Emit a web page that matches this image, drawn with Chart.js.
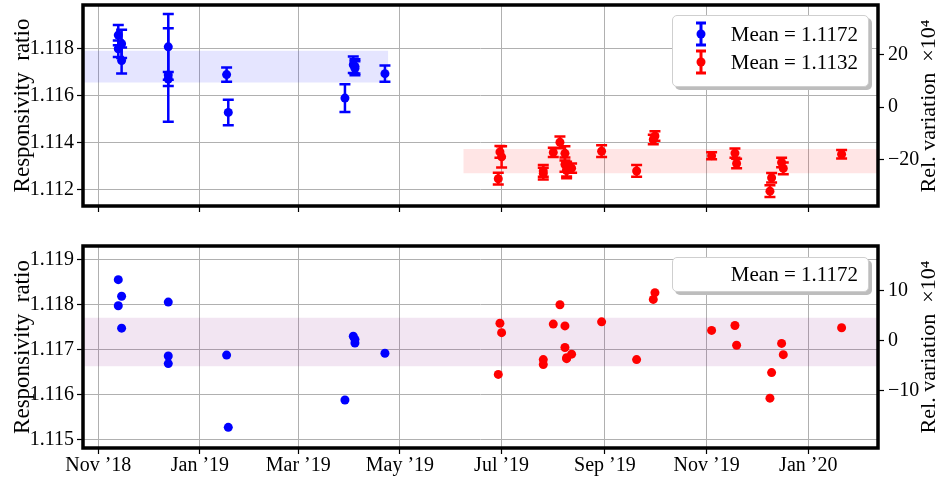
<!DOCTYPE html>
<html>
<head>
<meta charset="utf-8">
<script src="https://cdn.jsdelivr.net/npm/chart.js@4.4.1/dist/chart.umd.min.js"></script>
<style>
  body { margin: 0; background: #fff; width: 940px; height: 479px; position: relative; overflow: hidden; font-family: 'Liberation Serif', serif; }
  canvas { position: absolute; left: 0; }
  #chartTop { top: 0; }
  #chartBot { top: 240px; }
  .legend { position: absolute; background: #fff; border: 1px solid #cfcfcf; border-radius: 5px; box-shadow: 3px 3px 0 #bdbdbd; font-size: 21px; color: #000; box-sizing: border-box; }
  .legend .row { position: absolute; left: 0; right: 0; height: 28px; line-height: 28px; }
  .legend svg { position: absolute; left: 21px; top: 1px; }
  .legend .txt { position: absolute; right: 10px; }
  .rtitle { position: absolute; width: 200px; height: 24px; line-height: 24px; text-align: center; font-size: 22px; color: #000; transform: rotate(-90deg); transform-origin: 50% 50%; white-space: pre; }
</style>
</head>
<body>
<canvas id="chartTop" width="940" height="215"></canvas>
<canvas id="chartBot" width="940" height="239"></canvas>

<div class="rtitle" style="left:828px;top:94px">Rel. variation  ×10⁴</div>
<div class="rtitle" style="left:828px;top:335px">Rel. variation  ×10⁴</div>

<div class="legend" style="left:672px;top:15px;width:197px;height:72px">
  <div class="row" style="top:4px">
    <svg width="14" height="26"><path d="M2 2H12M7 2V24M2 24H12" stroke="#0000ff" stroke-width="3" fill="none"/><circle cx="7" cy="13" r="4.5" fill="#0000ff"/></svg>
    <span class="txt">Mean = 1.1172</span>
  </div>
  <div class="row" style="top:32px">
    <svg width="14" height="26"><path d="M2 2H12M7 2V24M2 24H12" stroke="#ff0000" stroke-width="3" fill="none"/><circle cx="7" cy="13" r="4.5" fill="#ff0000"/></svg>
    <span class="txt">Mean = 1.1132</span>
  </div>
</div>
<div class="legend" style="left:672px;top:257px;width:197px;height:35px">
  <div class="row" style="top:2px"><span class="txt">Mean = 1.1172</span></div>
</div>

<script>
// measurement dates and responsivity ratios
const blueDates = ['2018-11-13','2018-11-15','2018-11-13','2018-11-15','2018-12-13','2018-12-13','2018-12-13',
                   '2019-01-17','2019-01-18','2019-03-29','2019-04-03','2019-04-04','2019-04-04','2019-04-22'];
const blueRatio = [1.11856, 1.11819, 1.11798, 1.11748, 1.11806, 1.11686, 1.11669,
                   1.11688, 1.11527, 1.11588, 1.11730, 1.11723, 1.11715, 1.11692];
const blueErr   = [0.00043, 0.00060, 0.00035, 0.00055, 0.00140, 0.00199, 0.00030,
                   0.00030, 0.00054, 0.00059, 0.00035, 0.00030, 0.00030, 0.00035];

const redDates = ['2019-06-30','2019-07-01','2019-06-29','2019-07-26','2019-07-26','2019-08-01','2019-08-05',
                  '2019-08-08','2019-08-08','2019-08-09','2019-08-12','2019-08-09','2019-08-30','2019-09-20',
                  '2019-09-30','2019-10-01','2019-11-04','2019-11-18','2019-11-19','2019-12-10','2019-12-09',
                  '2019-12-16','2019-12-17','2020-01-21'];
// raw ratios (top panel)
const redRatio = [1.11359, 1.11338, 1.11245, 1.11278, 1.11267, 1.11357, 1.11400,
                  1.11353, 1.11305, 1.11282, 1.11290, 1.11280, 1.11362, 1.11278,
                  1.11412, 1.11427, 1.11343, 1.11354, 1.11310, 1.11249, 1.11192,
                  1.11314, 1.11289, 1.11349];
const redErr   = [0.00025, 0.00045, 0.00025, 0.00025, 0.00025, 0.00020, 0.00025,
                  0.00030, 0.00030, 0.00035, 0.00020, 0.00025, 0.00025, 0.00025,
                  0.00020, 0.00020, 0.00015, 0.00020, 0.00020, 0.00020, 0.00025,
                  0.00020, 0.00025, 0.00018];
// ratios rescaled to the blue mean (bottom panel)
const redScaled = [1.11759, 1.11738, 1.11645, 1.11678, 1.11667, 1.11757, 1.11800,
                   1.11753, 1.11705, 1.11682, 1.11690, 1.11680, 1.11762, 1.11678,
                   1.11812, 1.11827, 1.11743, 1.11754, 1.11710, 1.11649, 1.11592,
                   1.11714, 1.11689, 1.11749];

// mean +- spread bands
const blueBand   = [1.11654, 1.11789];
const blueBandX  = ['2018-10-20', '2019-04-24'];
const redBand    = [1.11268, 1.11371];
const redBandX   = ['2019-06-08', '2020-02-15'];
const allBand    = [1.11663, 1.11771];
const allBandX   = ['2018-10-20', '2020-02-15'];

const monthTicks  = ['2018-11-01','2019-01-01','2019-03-01','2019-05-01','2019-07-01','2019-09-01','2019-11-01','2020-01-01'];
const monthLabels = ['Nov ’18','Jan ’19','Mar ’19','May ’19','Jul ’19','Sep ’19','Nov ’19','Jan ’20'];

const topTicks = [1.112, 1.114, 1.116, 1.118];
const topRel   = [-20, 0, 20];
const botTicks = [1.115, 1.116, 1.117, 1.118, 1.119];
const botRel   = [-10, 0, 10];

const toT = s => Date.parse(s + 'T00:00:00Z');
const xMin = Date.parse('2018-10-22T20:00:00Z');
const xMax = Date.parse('2020-02-11T20:00:00Z');

const pts = (dates, vals) => dates.map((d, i) => ({ x: toT(d), y: vals[i] }));
const FONT = "'Liberation Serif', serif";

const errorBars = {
  id: 'errorBars',
  afterDatasetsDraw(chart) {
    const { ctx, chartArea: a } = chart;
    const yS = chart.scales.y;
    ctx.save();
    ctx.beginPath(); ctx.rect(a.left, a.top, a.width, a.height); ctx.clip();
    chart.data.datasets.forEach((ds, i) => {
      if (!ds.errors) return;
      const meta = chart.getDatasetMeta(i);
      ctx.strokeStyle = ds.backgroundColor;
      ctx.lineWidth = 2.5;
      meta.data.forEach((p, j) => {
        const v = ds.data[j].y, e = ds.errors[j];
        const y1 = yS.getPixelForValue(v - e), y2 = yS.getPixelForValue(v + e);
        ctx.beginPath();
        ctx.moveTo(p.x, y1); ctx.lineTo(p.x, y2);
        ctx.moveTo(p.x - 5.5, y1); ctx.lineTo(p.x + 5.5, y1);
        ctx.moveTo(p.x - 5.5, y2); ctx.lineTo(p.x + 5.5, y2);
        ctx.stroke();
      });
    });
    ctx.restore();
  }
};

const frame = {
  id: 'frame',
  afterDraw(chart) {
    const { ctx, chartArea: a } = chart;
    ctx.save();
    ctx.strokeStyle = '#000';
    ctx.lineWidth = 3.5;
    ctx.strokeRect(a.left, a.top, a.width, a.height);
    ctx.restore();
  }
};

function band(lohi, xs, color) {
  return [
    { type: 'line', data: [{ x: toT(xs[0]), y: lohi[1] }, { x: toT(xs[1]), y: lohi[1] }],
      borderColor: 'transparent', borderWidth: 0, pointRadius: 0, fill: false, order: 10 },
    { type: 'line', data: [{ x: toT(xs[0]), y: lohi[0] }, { x: toT(xs[1]), y: lohi[0] }],
      borderColor: 'transparent', borderWidth: 0, pointRadius: 0, fill: '-1', backgroundColor: color, order: 10 }
  ];
}

function makeOptions(o) {
  const relMin = (o.yMin / o.base - 1) * 1e4;
  const relMax = (o.yMax / o.base - 1) * 1e4;
  return {
    responsive: false,
    animation: false,
    events: [],
    layout: { padding: { top: o.padTop, left: 0, right: 0, bottom: 0 } },
    plugins: { legend: { display: false }, tooltip: { enabled: false } },
    scales: {
      x: {
        type: 'linear', min: xMin, max: xMax,
        afterBuildTicks: s => { s.ticks = monthTicks.map(d => ({ value: toT(d) })); },
        afterFit: s => { s.height = o.xHeight; s.paddingLeft = 0; s.paddingRight = 0; },
        grid: { color: '#b0b0b0', lineWidth: 1, tickColor: '#000', tickLength: 6, tickWidth: 1.2 },
        border: { display: false },
        ticks: {
          autoSkip: false, maxRotation: 0, padding: 0, color: '#000',
          font: { family: FONT, size: 20 },
          callback: (v, i) => o.showX ? monthLabels[i] : ''
        }
      },
      y: {
        position: 'left', min: o.yMin, max: o.yMax,
        afterBuildTicks: s => { s.ticks = o.ticks.map(v => ({ value: v })); },
        afterFit: s => { s.width = 83; s.paddingTop = 0; s.paddingBottom = 0; },
        grid: { color: '#b0b0b0', lineWidth: 1, tickColor: '#000', tickLength: 6, tickWidth: 1.2 },
        border: { display: false },
        ticks: { color: '#000', padding: 3, font: { family: FONT, size: 20 }, callback: v => v.toFixed(3) },
        title: { display: true, text: 'Responsivity  ratio', color: '#000', font: { family: FONT, size: 23 }, padding: { top: 9, bottom: 0 } }
      },
      y2: {
        position: 'right', min: relMin, max: relMax,
        afterBuildTicks: s => { s.ticks = o.rel.map(v => ({ value: v })); },
        afterFit: s => { s.width = 62; s.paddingTop = 0; s.paddingBottom = 0; },
        grid: { drawOnChartArea: false, tickColor: '#000', tickLength: 6, tickWidth: 1.2 },
        border: { display: false },
        ticks: { color: '#000', padding: 4, font: { family: FONT, size: 20 }, callback: v => v === 0 ? '0' : (v < 0 ? '−' + Math.abs(v) : String(v)) }
      }
    }
  };
}

new Chart(document.getElementById('chartTop'), {
  type: 'scatter',
  data: {
    datasets: [
      { data: pts(blueDates, blueRatio), errors: blueErr, backgroundColor: '#0000ff', borderWidth: 0, pointRadius: 4.5 },
      { data: pts(redDates, redRatio), errors: redErr, backgroundColor: '#ff0000', borderWidth: 0, pointRadius: 4.5 },
      ...band(blueBand, blueBandX, 'rgba(0,0,255,0.1)'),
      ...band(redBand, redBandX, 'rgba(255,0,0,0.1)')
    ]
  },
  options: makeOptions({ yMin: 1.11129, yMax: 1.11984, base: 1.1155, ticks: topTicks, rel: topRel, padTop: 5, xHeight: 9, showX: false }),
  plugins: [errorBars, frame]
});

new Chart(document.getElementById('chartBot'), {
  type: 'scatter',
  data: {
    datasets: [
      { data: pts(blueDates, blueRatio), backgroundColor: '#0000ff', borderWidth: 0, pointRadius: 4.5 },
      { data: pts(redDates, redScaled), backgroundColor: '#ff0000', borderWidth: 0, pointRadius: 4.5 },
      ...band(allBand, allBandX, 'rgba(128,0,128,0.1)')
    ]
  },
  options: makeOptions({ yMin: 1.11481, yMax: 1.11931, base: 1.1172, ticks: botTicks, rel: botRel, padTop: 6, xHeight: 31, showX: true }),
  plugins: [frame]
});
</script>
</body>
</html>
